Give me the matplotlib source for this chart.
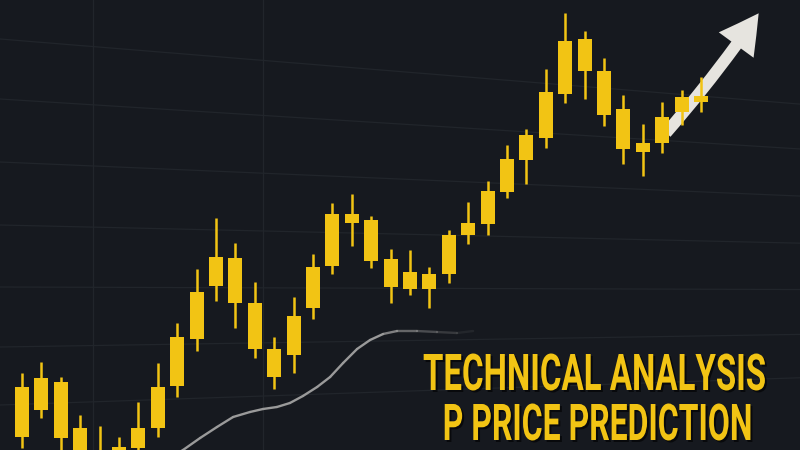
import matplotlib
matplotlib.use("Agg")
import matplotlib.pyplot as plt
import numpy as np
from matplotlib.collections import LineCollection
from matplotlib.patches import FancyArrowPatch, ArrowStyle
from matplotlib.patheffects import AbstractPathEffect
from matplotlib.transforms import Affine2D
from matplotlib.colors import to_rgba

# candle data (price units)
opens  = [101.3, 104.0, 106.8, 102.2, 99.5, 98.8, 100.2, 102.2, 106.4, 111.1, 116.4, 119.2,
          114.7, 110.1, 109.5, 114.2, 118.4, 123.6, 123.0, 119.1, 117.8, 116.1, 117.6, 121.5,
          122.6, 125.8, 129.0, 131.2, 135.6, 141.1, 137.9, 134.1, 130.7, 130.7, 133.8, 134.8]
closes = [106.3, 107.2, 101.2, 99.2, 98.0, 100.3, 102.2, 106.3, 111.3, 115.8, 119.3, 114.7,
          110.1, 107.3, 113.4, 118.3, 123.6, 122.7, 118.9, 116.3, 116.1, 117.6, 121.5, 122.7,
          125.9, 129.1, 131.5, 135.8, 140.9, 137.9, 133.5, 130.1, 129.8, 133.3, 135.3, 135.4]
highs  = [107.7, 108.8, 107.3, 103.5, 102.4, 101.3, 104.8, 108.7, 112.7, 118.1, 123.2, 120.7,
          116.8, 111.3, 115.3, 119.6, 124.7, 125.6, 123.4, 120.1, 120.0, 118.3, 122.0, 124.8,
          126.9, 130.5, 132.1, 138.1, 143.7, 141.9, 139.2, 135.5, 132.6, 134.8, 136.0, 137.3]
lows   = [100.2, 103.2, 99.8, 98.5, 97.5, 98.0, 99.5, 101.3, 105.3, 109.9, 114.9, 112.2,
          109.2, 106.1, 107.7, 113.1, 117.6, 120.4, 118.2, 114.7, 115.5, 114.2, 116.7, 120.6,
          121.5, 125.2, 126.6, 130.2, 134.7, 135.1, 132.4, 128.6, 127.4, 129.7, 132.5, 133.8]

# grey moving-average style curve
ma_x = [7.42, 8.30, 9.18, 10.05, 10.88, 11.75, 12.42, 13.14, 13.81, 14.48, 15.21, 15.88,
        16.55, 17.27, 17.94, 18.61, 19.33, 20.36, 21.39, 22.42, 23.25]
ma_y = [99.0, 100.0, 101.2, 102.3, 103.3, 103.8, 104.1, 104.3, 104.7, 105.4, 106.3, 107.3,
        108.7, 110.1, 111.0, 111.6, 111.9, 111.9, 111.8, 111.7, 111.9]

# trend arrow (tail -> tip)
arrow_start = (33.1, 131.5)
arrow_end = (38.05, 143.9)

title_lines = ["TECHNICAL ANALYSIS", "P PRICE PREDICTION"]

BG = "#16191f"
GRID = "#21252b"
GOLD = "#f2c414"


class Squeeze(AbstractPathEffect):
    """draw text scaled by (sx, sy) around (cx, cy) in display px"""
    def __init__(self, sx, sy, cx, cy, dx=0, dy=0, color=None, alpha=1.0):
        super().__init__()
        self.sx, self.sy, self.cx, self.cy = sx, sy, cx, cy
        self.dx, self.dy = dx, dy
        self.color, self.alpha = color, alpha

    def draw_path(self, renderer, gc, tpath, affine, rgbFace=None):
        tr = (Affine2D().translate(-self.cx, -self.cy).scale(self.sx, self.sy)
              .translate(self.cx + self.dx, self.cy + self.dy))
        if self.color is None:
            renderer.draw_path(gc, tpath, affine + tr, rgbFace)
        else:
            gc0 = renderer.new_gc()
            gc0.copy_properties(gc)
            gc0.set_foreground(self.color)
            gc0.set_alpha(self.alpha)
            renderer.draw_path(gc0, tpath, affine + tr, to_rgba(self.color, self.alpha))
            gc0.restore()


fig = plt.figure(figsize=(8, 4.5), dpi=100, facecolor=BG)
ax = fig.add_axes([0, 0, 1, 1])
ax.set_facecolor(BG)
ax.set_xlim(-1.134, 40.1)
ax.set_ylim(100, 145)
ax.axis("off")

# perspective grid
vp = (162.3, 115.3)
for lvl in [141.1, 135.1, 128.8, 122.5, 116.3, 110.3, 104.5]:
    ax.plot([-1.134, vp[0]], [lvl, vp[1]], color=GRID, lw=0.9, zorder=1)
for gx in [3.66, 12.42]:
    ax.axvline(gx, color=GRID, lw=0.9, zorder=1)

x = np.arange(len(opens))
o = np.array(opens)
c = np.array(closes)
ax.vlines(x, lows, highs, color=GOLD, lw=1.8, zorder=3)
ax.bar(x, np.abs(c - o), bottom=np.minimum(o, c), width=0.72, color=GOLD, zorder=4)

# fading grey curve
pts = np.column_stack([ma_x, ma_y])
segs = np.stack([pts[:-1], pts[1:]], axis=1)
alphas = np.ones(len(segs))
alphas[-5:] = [0.8, 0.6, 0.4, 0.25, 0.1]
cols = [to_rgba("#9a9a9a", a) for a in alphas]
ax.add_collection(LineCollection(segs, colors=cols, linewidths=1.7, zorder=2, capstyle="round"))

arrow = FancyArrowPatch(arrow_start, arrow_end,
                        arrowstyle=ArrowStyle.Simple(head_length=28, head_width=31, tail_width=8.5),
                        connectionstyle="arc3,rad=0.03", color="#e6e4df", lw=0, zorder=2.5)
ax.add_patch(arrow)

fs = 22
t1 = ax.text(0.7425, 1 - 390 / 450, title_lines[0], transform=ax.transAxes, ha="center",
             va="baseline", fontsize=fs, fontweight="bold", family="Roboto", color=GOLD, zorder=6)
t2 = ax.text(0.7465, 1 - 440 / 450, title_lines[1], transform=ax.transAxes, ha="center",
             va="baseline", fontsize=fs, fontweight="bold", family="Roboto", color=GOLD, zorder=6)

fig.canvas.draw()
r = fig.canvas.get_renderer()
cap_px = 36.0
for t, w in [(t1, 342), (t2, 309)]:
    bb = t.get_window_extent(r)
    sx = w / bb.width
    sy = cap_px / (0.711 * fs * 100 / 72)
    cx = (bb.x0 + bb.x1) / 2
    cy = ax.transAxes.transform(t.get_position())[1]
    t.set_path_effects([Squeeze(sx, sy, cx, cy, dx=2, dy=-2, color="#050608", alpha=0.8),
                        Squeeze(sx, sy, cx, cy)])

fig.savefig("out.png", dpi=100, facecolor=BG)
